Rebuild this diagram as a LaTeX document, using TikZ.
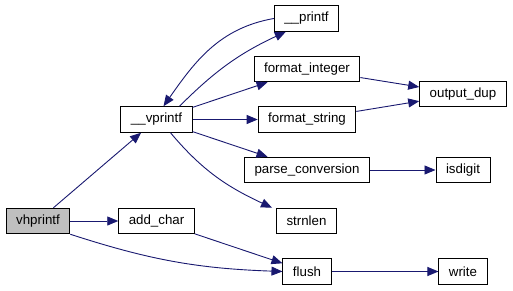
\documentclass[tikz,border=0pt]{standalone}
\usepackage{fontspec}
\setmainfont{Liberation Sans}
\usetikzlibrary{arrows.meta}

\definecolor{edgeblue}{HTML}{191970}
\definecolor{rootgray}{HTML}{BFBFBF}

\tikzset{
  fn/.style={draw=black, line width=1pt, fill=white, inner xsep=10pt, inner ysep=0pt,
    minimum height=25.5pt, font=\fontsize{13.3}{16}\selectfont, anchor=center},
  call/.style={draw=edgeblue, line width=0.9pt, -{Triangle[length=11pt,width=9pt]}}
}

\begin{document}
\begin{tikzpicture}[x=1pt, y=-1pt]
        \useasboundingbox (0,0) rectangle (513,291);

        % Draw the functions of the call graph
        \node[fn, fill=rootgray] (vhprintf) at (38, 221) {vhprintf};
        \node[fn] (addchar) at (156.5, 221) {add\_char};
        \node[fn] (vprintf) at (156.5, 119.5) {\_\_vprintf};

        \node[fn] (printf) at (306.5, 18.5) {\_\_printf};
        \node[fn] (fmtint) at (307, 69) {format\_integer};
        \node[fn] (fmtstr) at (307, 119.5) {format\_string};
        \node[fn] (parseconv) at (307, 170) {parse\_conversion};
        \node[fn] (strnlen) at (306.5, 221) {strnlen};
        \node[fn] (flush) at (307, 271.5) {flush};

        \node[fn] (outdup) at (463, 94) {output\_dup};
        \node[fn] (isdigit) at (463, 170) {isdigit};
        \node[fn] (write) at (463, 271.5) {write};

        % Draw the calls between the functions
        \draw[call] (vhprintf) -- (vprintf);
        \draw[call] (vhprintf) -- (addchar);
        \draw[call] (vhprintf.south east) to[out=-18, in=178] (flush.west);
        \draw[call] (addchar) -- (flush);

        \draw[call] (vprintf.north east) ++(-13,0) to[out=45, in=-155] ([xshift=12pt]printf.south west);
        \draw[call] (printf.west) to[out=190, in=55] ([xshift=7pt]vprintf.north);
        \draw[call] (vprintf) -- (fmtint);
        \draw[call] (vprintf) -- (fmtstr);
        \draw[call] (vprintf) -- (parseconv);
        \draw[call] ([xshift=14pt]vprintf.south) to[out=-50, in=155] ([xshift=-4pt]strnlen.north west);

        \draw[call] (fmtint) -- (outdup);
        \draw[call] (fmtstr) -- (outdup);
        \draw[call] (parseconv) -- (isdigit);
        \draw[call] (flush) -- (write);
\end{tikzpicture}
\end{document}
